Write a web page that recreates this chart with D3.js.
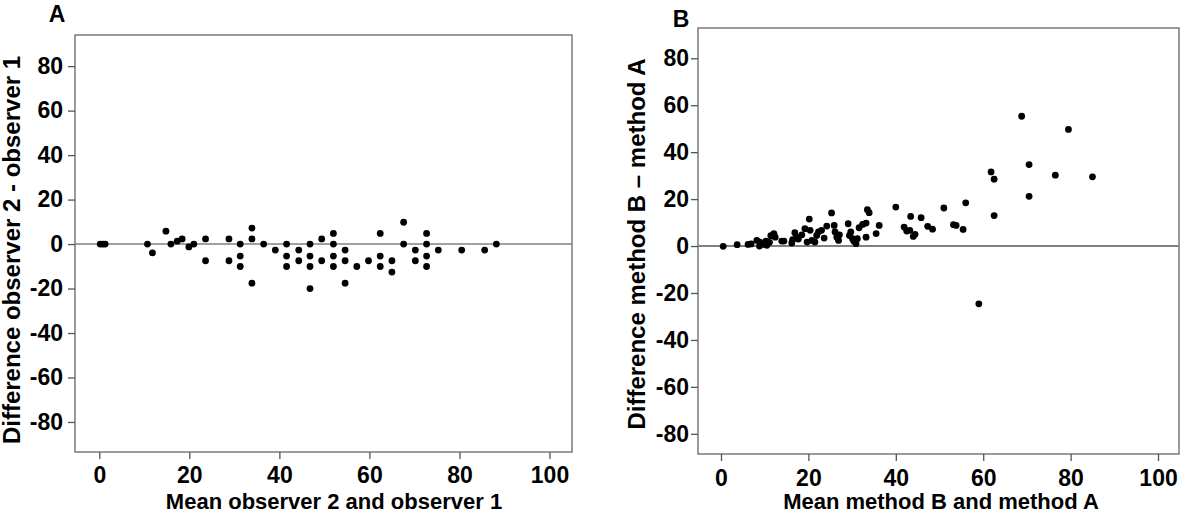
<!DOCTYPE html>
<html>
<head>
<meta charset="utf-8">
<script src="https://cdn.jsdelivr.net/npm/d3@7"></script>
<style>
  body { margin: 0; background: #fff; }
  text { font-family: "Liberation Sans", Arial, sans-serif; font-weight: bold; fill: #000; }
</style>
</head>
<body>
<svg id="chart" width="1200" height="519"></svg>
<script>
"use strict";

// Panel A: observer agreement (mean, difference)
var aMean = [0.2, 0.8, 1.3, 10.7, 11.8, 14.8, 15.9, 17.3, 18.4, 19.9, 21.0,
    23.6, 23.6, 28.8, 28.8, 31.3, 31.3, 31.3, 33.9, 33.9, 33.9, 36.5, 39.1,
    41.6, 41.6, 41.6, 44.3, 44.3, 46.8, 46.8, 46.8, 46.8, 49.4, 49.4,
    52.0, 52.0, 52.0, 52.0, 54.6, 54.6, 54.6, 57.2, 59.8, 62.4, 62.4, 62.4,
    65.0, 65.0, 67.6, 67.6, 70.2, 70.2, 72.7, 72.7, 72.7, 72.7, 75.3, 80.5, 85.6, 88.2];
var aDiff = [0, 0, 0, 0, -4.0, 5.8, 0, 1.3, 2.3, -1.3, 0,
    2.3, -7.5, 2.3, -7.5, 0, -5.4, -10.1, 7.2, 2.3, -17.6, 0, -2.7,
    0, -5.4, -10.1, -2.7, -7.5, 0, -5.4, -10.1, -20, 2.3, -7.5,
    4.8, 0, -5.4, -10.1, -2.7, -7.5, -17.6, -10.1, -7.5, 4.8, -5.4, -10.1,
    -7.5, -12.6, 9.8, 0, -2.7, -7.5, 4.8, 0, -5.4, -10.1, -2.7, -2.7, -2.7, 0];

// Panel B: method comparison (mean, difference)
var bMean = [0.5, 3.7, 6.2, 6.9, 8.2, 8.8, 8.9, 9.7, 10.3, 10.5, 11.1, 11.4, 12.1, 12.4,
    13.9, 14.4, 16.2, 16.4, 16.9, 17.3, 17.7, 18.5, 19.2, 19.7, 20.2, 20.4, 20.8,
    21.5, 21.9, 22.3, 23.0, 23.6, 24.2, 25.3, 25.9, 26.1, 26.5, 26.9, 27.1, 29.1,
    29.4, 29.7, 30.1, 30.4, 30.9, 31.2, 31.6, 32.4, 33.2, 33.2, 33.5, 33.9, 35.5,
    36.2, 40.0, 41.9, 42.5, 43.2, 43.4, 44.0, 44.4, 45.8, 47.3, 48.4, 51.0, 53.2,
    53.8, 55.4, 56.0, 59.0, 61.8, 62.5, 62.5, 68.8, 70.5, 70.5, 76.5, 79.5, 85.0];
var bDiff = [-0.1, 0.6, 0.7, 0.9, 2.4, 0, 1.7, 0.7, 2.1, 0.3, 1.6, 4.4, 5.3, 3.8,
    2.1, 2.1, 1.3, 2.7, 5.7, 3.8, 3.0, 4.8, 7.4, 1.7, 11.5, 6.7, 2.4,
    1.7, 4.5, 6.0, 6.7, 3.4, 8.5, 14.1, 8.8, 6.0, 3.8, 2.4, 4.8, 9.5,
    4.5, 6.0, 3.1, 2.0, 1.0, 3.1, 7.8, 9.2, 9.8, 3.8, 15.5, 14.2, 5.3,
    8.8, 16.6, 8.1, 6.4, 6.7, 12.6, 4.1, 5.0, 12.1, 8.4, 7.2, 16.2, 9.1,
    8.8, 7.1, 18.4, -24.6, 31.6, 28.5, 13.0, 55.3, 34.7, 21.2, 30.2, 49.7, 29.5];

var xTicks = [0, 20, 40, 60, 80, 100];
var yTicks = [-80, -60, -40, -20, 0, 20, 40, 60, 80];

var svg = d3.select("#chart");

var panels = [
    {
        label: "A", mean: aMean, diff: aDiff,
        xTitle: "Mean observer 2 and observer 1",
        yTitle: "Difference observer 2 - observer 1",
        left: 75, right: 572, top: 35, bottom: 452,
        xDomain: [-5.4, 105], yDomain: [-93.5, 94],
        labelPos: [57, 22], xTitlePos: [334, 509], yTitleX: 20, yTitleY: 250,
        xPad: 8, yPad: 5, zeroW: 1.4
    },
    {
        label: "B", mean: bMean, diff: bDiff,
        xTitle: "Mean method B and method A",
        yTitle: "Difference method B \u2013 method A",
        left: 698, right: 1179, top: 28, bottom: 454,
        xDomain: [-5.26, 104.8], yDomain: [-88.6, 92.9],
        labelPos: [681, 27], xTitlePos: [941, 509], yTitleX: 645, yTitleY: 244,
        xPad: 9, yPad: 2, zeroW: 2
    }
];

// plain hyphen for negatives, like the original
var fmt = function (d) { return String(d); };

panels.forEach(function (p) {
    var x = d3.scaleLinear().domain(p.xDomain).range([p.left, p.right]);
    var y = d3.scaleLinear().domain(p.yDomain).range([p.bottom, p.top]);
    var g = svg.append("g");

    // frame
    g.append("rect")
        .attr("x", p.left).attr("y", p.top)
        .attr("width", p.right - p.left).attr("height", p.bottom - p.top)
        .attr("fill", "none").attr("stroke", "#666").attr("stroke-width", 1.3);

    // axes
    var xAxis = g.append("g")
        .attr("transform", "translate(0," + p.bottom + ")")
        .call(d3.axisBottom(x).tickValues(xTicks).tickFormat(fmt)
            .tickSize(7).tickSizeOuter(0).tickPadding(p.xPad));
    var yAxis = g.append("g")
        .attr("transform", "translate(" + p.left + ",0)")
        .call(d3.axisLeft(y).tickValues(yTicks).tickFormat(fmt)
            .tickSize(7).tickSizeOuter(0).tickPadding(p.yPad));
    [xAxis, yAxis].forEach(function (ax) {
        ax.select(".domain").remove();
        ax.selectAll(".tick line").attr("stroke", "#555").attr("stroke-width", 1.3);
        ax.selectAll(".tick text")
            .style("font-family", "'Liberation Sans', Arial, sans-serif")
            .style("font-weight", "bold")
            .style("font-size", "23px")
            .attr("fill", "#000");
    });

    // zero line
    g.append("line")
        .attr("x1", p.left).attr("x2", p.right)
        .attr("y1", y(0)).attr("y2", y(0))
        .attr("stroke", "#808080").attr("stroke-width", p.zeroW);

    // points
    g.selectAll("circle")
        .data(d3.range(p.mean.length))
        .join("circle")
        .attr("cx", function (i) { return x(p.mean[i]); })
        .attr("cy", function (i) { return y(p.diff[i]); })
        .attr("r", 3.4)
        .attr("fill", "#000");

    // titles
    g.append("text")
        .attr("x", p.labelPos[0]).attr("y", p.labelPos[1])
        .attr("text-anchor", "middle")
        .style("font-size", "23px")
        .text(p.label);

    g.append("text")
        .attr("x", p.xTitlePos[0]).attr("y", p.xTitlePos[1])
        .attr("text-anchor", "middle")
        .style("font-size", "22px")
        .text(p.xTitle);

    g.append("text")
        .attr("transform", "translate(" + p.yTitleX + "," + p.yTitleY + ") rotate(-90)")
        .attr("text-anchor", "middle")
        .style("font-size", "24px")
        .text(p.yTitle);
});
</script>
</body>
</html>
